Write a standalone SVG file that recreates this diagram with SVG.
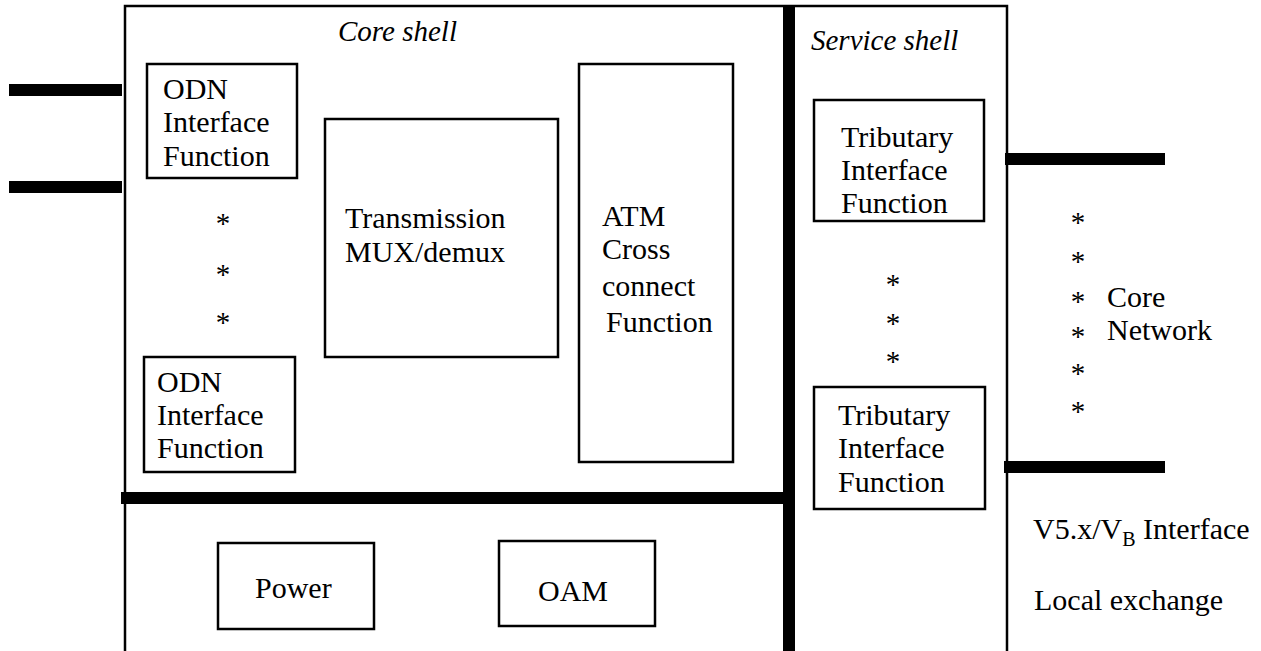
<svg xmlns="http://www.w3.org/2000/svg" width="1261" height="651" viewBox="0 0 1261 651">
  <style>
    .box { fill: none; stroke: #000; stroke-width: 2.5; }
    .frame { fill: none; stroke: #000; stroke-width: 2.5; }
    .bar { stroke: #000; stroke-width: 12; fill: none; }
    text { font-family: 'Liberation Serif', 'DejaVu Serif', serif; font-size: 30px; fill: #000; }
    .it { font-style: italic; font-size: 29px; }
    .star { text-anchor: middle; font-size: 29px; }
    .sub { font-size: 20px; }
  </style>
  <rect width="1261" height="651" fill="#fff"/>

  <!-- Access node outline and shell dividers -->
  <g id="frame">
    <polyline class="frame" points="125,651 125,6 1007,6 1007,651"/>
    <line class="bar" x1="789" y1="6" x2="789" y2="651"/>
    <line class="bar" x1="121" y1="498" x2="795" y2="498"/>
  </g>

  <!-- Interface stubs -->
  <g id="connectors">
    <line class="bar" x1="9" y1="90" x2="122" y2="90"/>
    <line class="bar" x1="9" y1="187" x2="122" y2="187"/>
    <line class="bar" x1="1005" y1="159" x2="1165" y2="159"/>
    <line class="bar" x1="1004" y1="467" x2="1165" y2="467"/>
  </g>

  <g id="core-shell-label">
    <text class="it" x="338" y="41">Core shell</text>
  </g>
  <g id="service-shell-label">
    <text class="it" x="811" y="50">Service shell</text>
  </g>

  <g id="odn-1">
    <rect class="box" x="147" y="64" width="150" height="114"/>
    <text x="163" y="99">ODN</text>
    <text x="163" y="132">Interface</text>
    <text x="163" y="166">Function</text>
  </g>

  <g id="odn-dots">
    <text class="star" x="223" y="233">*</text>
    <text class="star" x="223" y="284">*</text>
    <text class="star" x="223" y="332">*</text>
  </g>

  <g id="odn-2">
    <rect class="box" x="144" y="357" width="151" height="115"/>
    <text x="157" y="392">ODN</text>
    <text x="157" y="425">Interface</text>
    <text x="157" y="458">Function</text>
  </g>

  <g id="transmission">
    <rect class="box" x="325" y="119" width="233" height="238"/>
    <text x="345" y="228">Transmission</text>
    <text x="345" y="262">MUX/demux</text>
  </g>

  <g id="atm-cross-connect">
    <rect class="box" x="579" y="64" width="154" height="398"/>
    <text x="602" y="226">ATM</text>
    <text x="602" y="259">Cross</text>
    <text x="602" y="296">connect</text>
    <text x="606" y="332">Function</text>
  </g>

  <g id="tributary-1">
    <rect class="box" x="814" y="100" width="170" height="121"/>
    <text x="841" y="147">Tributary</text>
    <text x="841" y="180">Interface</text>
    <text x="841" y="213">Function</text>
  </g>

  <g id="tributary-dots">
    <text class="star" x="893" y="294">*</text>
    <text class="star" x="893" y="333">*</text>
    <text class="star" x="893" y="371">*</text>
  </g>

  <g id="tributary-2">
    <rect class="box" x="814" y="387" width="171" height="122"/>
    <text x="838" y="425">Tributary</text>
    <text x="838" y="458">Interface</text>
    <text x="838" y="492">Function</text>
  </g>

  <g id="power">
    <rect class="box" x="218" y="543" width="156" height="86"/>
    <text x="255" y="598">Power</text>
  </g>

  <g id="oam">
    <rect class="box" x="499" y="541" width="156" height="85"/>
    <text x="538" y="601">OAM</text>
  </g>

  <g id="core-network">
    <text class="star" x="1078" y="232">*</text>
    <text class="star" x="1078" y="271">*</text>
    <text class="star" x="1078" y="311">*</text>
    <text class="star" x="1078" y="346">*</text>
    <text class="star" x="1078" y="383">*</text>
    <text class="star" x="1078" y="421">*</text>
    <text x="1107" y="307">Core</text>
    <text x="1107" y="340">Network</text>
  </g>

  <g id="local-exchange">
    <text x="1033" y="539">V5.x/V<tspan class="sub" dy="7">B</tspan><tspan dy="-7"> Interface</tspan></text>
    <text x="1034" y="610">Local exchange</text>
  </g>
</svg>
